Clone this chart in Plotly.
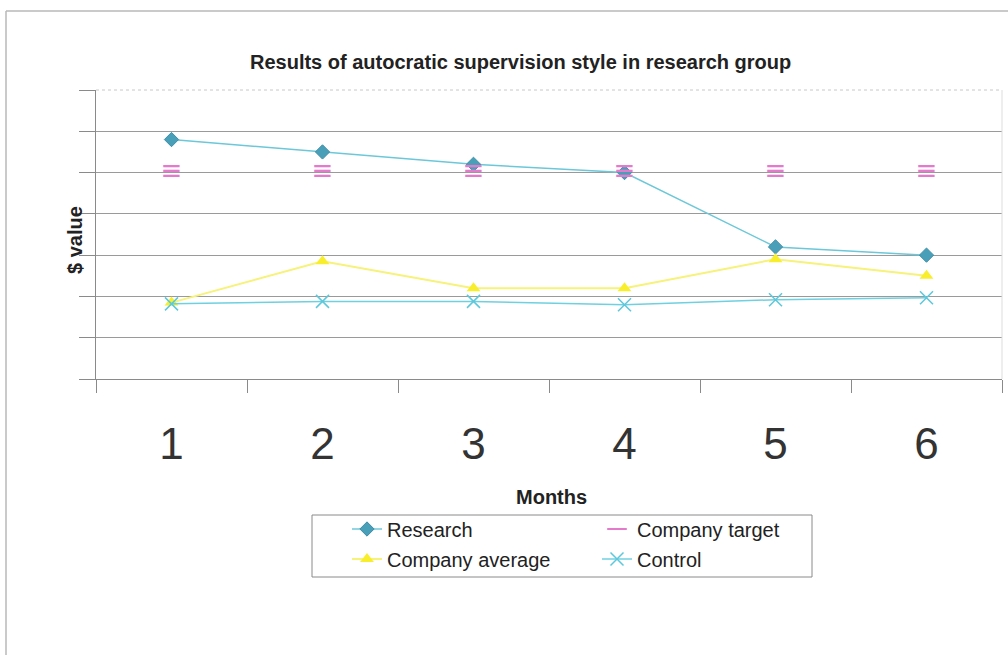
import plotly.graph_objects as go

# Monthly results for the research group and comparison series
months = ["1", "2", "3", "4", "5", "6"]
research = [5.8, 5.5, 5.2, 5.0, 3.2, 3.0]
company_target = [5.0, 5.0, 5.0, 5.0, 5.0, 5.0]
company_average = [1.85, 2.85, 2.2, 2.2, 2.9, 2.5]
control = [1.82, 1.88, 1.88, 1.8, 1.92, 1.97]

W, H = 1008, 655
L, R, T, B = 96, 6, 90, 276
PW, PH = W - L - R, H - T - B


def px(x):
    return (x - L) / PW


def py(y):
    return (H - B - y) / PH


FONT = "Arial, Liberation Sans, sans-serif"

fig = go.Figure()

fig.add_trace(go.Scatter(
    x=months, y=research, name="Research", mode="lines+markers",
    line=dict(color="#6cc8d8", width=1.5),
    marker=dict(symbol="diamond", size=11, color="#4a9fb8",
                line=dict(color="#3d8fa8", width=1)),
    legend="legend",
))
fig.add_trace(go.Scatter(
    x=months, y=company_target, name="Company target", mode="text",
    text=["≡"] * len(months), textfont=dict(color="#e47acb", size=26, family="DejaVu Sans"),
    showlegend=False,
))
fig.add_trace(go.Scatter(
    x=[None], y=[None], name="Company target", mode="markers",
    marker=dict(symbol="line-ew-open", size=14, color="#e47acb",
                line=dict(color="#e47acb", width=2)),
    legend="legend2",
))
fig.add_trace(go.Scatter(
    x=months, y=company_average, name="Company average", mode="lines+markers",
    line=dict(color="#f6f27a", width=2),
    marker=dict(symbol="triangle-up", size=12, color="#f8ee2c"),
    legend="legend3",
))
fig.add_trace(go.Scatter(
    x=months, y=control, name="Control", mode="lines+markers",
    line=dict(color="#6fd0e0", width=1.5),
    marker=dict(symbol="x-thin", size=13, color="#5cc8dc",
                line=dict(color="#5cc8dc", width=1.5)),
    legend="legend4",
))

legend_common = dict(
    bgcolor="rgba(0,0,0,0)", borderwidth=0,
    font=dict(family=FONT, size=20, color="#222"),
    xanchor="left", yanchor="middle",
)
col1, col2 = px(387 - 40), px(637 - 40)
row1, row2 = py(529), py(559)

shapes = [
    # legend box
    dict(type="rect", xref="paper", yref="paper",
         x0=px(312), x1=px(812), y0=py(577), y1=py(515),
         line=dict(color="#8a8a8a", width=1), fillcolor="rgba(0,0,0,0)"),
    # outer chart frame (left and top edges)
    dict(type="line", xref="paper", yref="paper",
         x0=px(6), x1=px(6), y0=py(655), y1=py(11),
         line=dict(color="#b8b8b8", width=1.5)),
    dict(type="line", xref="paper", yref="paper",
         x0=px(6), x1=px(1008), y0=py(11), y1=py(11),
         line=dict(color="#b8b8b8", width=1.5)),
    # top and right plot edges
    dict(type="line", xref="paper", yref="paper",
         x0=0, x1=1, y0=1, y1=1,
         line=dict(color="#c8c8c8", width=1, dash="dot")),
    dict(type="line", xref="paper", yref="paper",
         x0=1, x1=1, y0=0, y1=1,
         line=dict(color="#dddddd", width=1)),
]

fig.update_layout(
    width=W, height=H,
    margin=dict(l=L, r=R, t=T, b=B),
    paper_bgcolor="white", plot_bgcolor="white",
    font=dict(family=FONT, color="#222"),
    legend=dict(**legend_common, x=col1, y=row1),
    legend2=dict(**legend_common, x=col2, y=row1),
    legend3=dict(**legend_common, x=col1, y=row2),
    legend4=dict(**legend_common, x=col2, y=row2),
    shapes=shapes,
    annotations=[
        dict(text="<b>Results of autocratic supervision style in research group</b>",
             xref="paper", yref="paper", x=px(520), y=py(62),
             xanchor="center", yanchor="middle", showarrow=False,
             font=dict(family=FONT, size=20, color="#222")),
        dict(text="<b>$ value</b>", xref="paper", yref="paper",
             x=px(75), y=py(240), textangle=-90,
             xanchor="center", yanchor="middle", showarrow=False,
             font=dict(family=FONT, size=20, color="#222")),
        dict(text="<b>Months</b>", xref="paper", yref="paper",
             x=px(551), y=py(497), xanchor="center", yanchor="middle",
             showarrow=False, font=dict(family=FONT, size=20, color="#222")),
    ],
)

fig.update_xaxes(
    type="category", range=[-0.5, len(months) - 0.5],
    showgrid=False, showline=True, linecolor="#8a8a8a",
    ticks="outside", tickson="boundaries", ticklen=13, tickcolor="#8a8a8a",
    tickfont=dict(family=FONT, size=44, color="#333"), ticklabelstandoff=26,
    zeroline=False,
)
fig.update_yaxes(
    range=[0, 7], dtick=1, showticklabels=False, showgrid=True,
    gridcolor="#9a9a9a", gridwidth=1, showline=True, linecolor="#8a8a8a",
    ticks="outside", ticklen=16, tickcolor="#8a8a8a", zeroline=False,
)

fig.write_html("out.html")
